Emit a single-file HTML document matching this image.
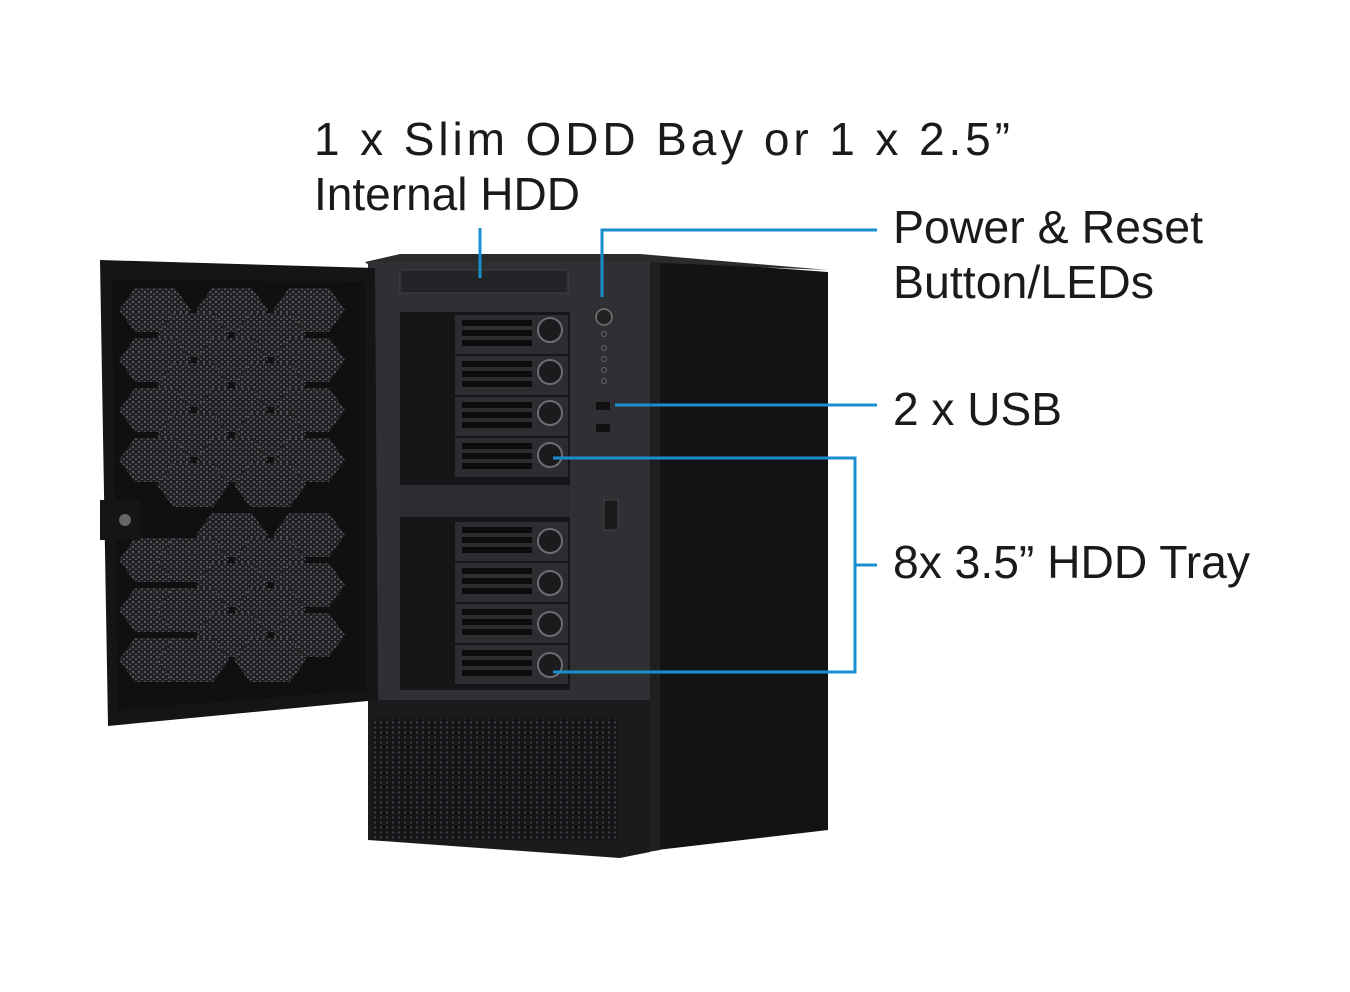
<!DOCTYPE html>
<html><head><meta charset="utf-8"><style>
html,body{margin:0;padding:0;background:#fff;}
svg{display:block}
text{font-family:"Liberation Sans",Arial,sans-serif;font-size:46px;fill:#1a1a1a}
</style></head><body>
<svg width="1350" height="992" viewBox="0 0 1350 992" xmlns="http://www.w3.org/2000/svg">
<defs>
<pattern id="hex" width="6" height="5" patternUnits="userSpaceOnUse">
<rect width="6" height="5" fill="#1e1f21"/><circle cx="2" cy="2" r="1.2" fill="#55585c"/><circle cx="5" cy="4.5" r="1.1" fill="#55585c"/>
</pattern>
<pattern id="mesh" width="6" height="5" patternUnits="userSpaceOnUse">
<rect width="6" height="5" fill="#141516"/><circle cx="3" cy="2.5" r="1.2" fill="#3a3c40"/>
</pattern>
<polygon id="hx" points="-36,0 -20,-22 20,-22 36,0 20,22 -20,22" fill="url(#hex)"/>
</defs>
<!-- side panel -->
<polygon points="640,258 828,272 828,830 640,852" fill="#121314"/>
<polygon points="648,262 660,262 660,850 648,852" fill="#1e1f21"/>
<polygon points="365,262 400,254 640,254 828,270 640,262 370,266" fill="#2a2b2d"/>
<rect x="368" y="262" width="282" height="440" fill="#2e3033"/>
<polygon points="368,700 650,700 650,852 620,858 368,840" fill="#1a1b1d"/>
<rect x="372" y="718" width="246" height="122" fill="url(#mesh)"/>
<rect x="400" y="270" width="168" height="23" fill="#232427" stroke="#3d3f43"/>
<rect x="400" y="312" width="170" height="378" fill="#151617"/>
<rect x="400" y="485" width="170" height="32" fill="#2a2c2f"/>
<g>
<rect x="455" y="315" width="113" height="39" fill="#2b2d30"/>
<rect x="455" y="356" width="113" height="39" fill="#2b2d30"/>
<rect x="455" y="397" width="113" height="39" fill="#2b2d30"/>
<rect x="455" y="438" width="113" height="39" fill="#2b2d30"/>
<rect x="455" y="522" width="113" height="39" fill="#2b2d30"/>
<rect x="455" y="563" width="113" height="39" fill="#2b2d30"/>
<rect x="455" y="604" width="113" height="39" fill="#2b2d30"/>
<rect x="455" y="645" width="113" height="39" fill="#2b2d30"/>
</g>
<g fill="#0c0c0d">
<rect x="462" y="320" width="70" height="6"/><rect x="462" y="330" width="70" height="6"/><rect x="462" y="340" width="70" height="6"/>
<rect x="462" y="361" width="70" height="6"/><rect x="462" y="371" width="70" height="6"/><rect x="462" y="381" width="70" height="6"/>
<rect x="462" y="402" width="70" height="6"/><rect x="462" y="412" width="70" height="6"/><rect x="462" y="422" width="70" height="6"/>
<rect x="462" y="443" width="70" height="6"/><rect x="462" y="453" width="70" height="6"/><rect x="462" y="463" width="70" height="6"/>
<rect x="462" y="527" width="70" height="6"/><rect x="462" y="537" width="70" height="6"/><rect x="462" y="547" width="70" height="6"/>
<rect x="462" y="568" width="70" height="6"/><rect x="462" y="578" width="70" height="6"/><rect x="462" y="588" width="70" height="6"/>
<rect x="462" y="609" width="70" height="6"/><rect x="462" y="619" width="70" height="6"/><rect x="462" y="629" width="70" height="6"/>
<rect x="462" y="650" width="70" height="6"/><rect x="462" y="660" width="70" height="6"/><rect x="462" y="670" width="70" height="6"/>
</g>
<g fill="#1a1b1c" stroke="#6a6d72" stroke-width="2">
<circle cx="550" cy="330" r="12"/><circle cx="550" cy="372" r="12"/><circle cx="550" cy="413" r="12"/><circle cx="550" cy="455" r="12"/>
<circle cx="550" cy="541" r="12"/><circle cx="550" cy="583" r="12"/><circle cx="550" cy="624" r="12"/><circle cx="550" cy="665" r="12"/>
</g>
<circle cx="604" cy="317" r="8" fill="#222" stroke="#777" stroke-width="1.5"/>
<g fill="none" stroke="#666" stroke-width="1"><circle cx="604" cy="334" r="2.5"/><circle cx="604" cy="348" r="2.5"/><circle cx="604" cy="359" r="2.5"/><circle cx="604" cy="370" r="2.5"/><circle cx="604" cy="381" r="2.5"/></g>
<rect x="596" y="402" width="14" height="8" fill="#111"/><rect x="596" y="424" width="14" height="8" fill="#111"/>
<rect x="604" y="500" width="14" height="30" fill="#1a1b1c" stroke="#444"/>
<!-- door -->
<polygon points="100,260 375,268 378,700 108,726" fill="#141516"/>
<polygon points="112,280 365,282 365,690 118,710" fill="#0f1011"/>
<g>
<use href="#hx" x="155" y="310"/><use href="#hx" x="232" y="310"/><use href="#hx" x="309" y="310"/>
<use href="#hx" x="193" y="335"/><use href="#hx" x="270" y="335"/>
<use href="#hx" x="155" y="360"/><use href="#hx" x="232" y="360"/><use href="#hx" x="309" y="360"/>
<use href="#hx" x="193" y="385"/><use href="#hx" x="270" y="385"/>
<use href="#hx" x="155" y="410"/><use href="#hx" x="232" y="410"/><use href="#hx" x="309" y="410"/>
<use href="#hx" x="193" y="435"/><use href="#hx" x="270" y="435"/>
<use href="#hx" x="155" y="460"/><use href="#hx" x="232" y="460"/><use href="#hx" x="309" y="460"/>
<use href="#hx" x="193" y="485"/><use href="#hx" x="270" y="485"/>
<use href="#hx" x="155" y="560"/><use href="#hx" x="232" y="535"/><use href="#hx" x="309" y="535"/>
<use href="#hx" x="193" y="560"/><use href="#hx" x="270" y="560"/>
<use href="#hx" x="155" y="610"/><use href="#hx" x="232" y="585"/><use href="#hx" x="309" y="585"/>
<use href="#hx" x="193" y="610"/><use href="#hx" x="270" y="610"/>
<use href="#hx" x="155" y="660"/><use href="#hx" x="232" y="635"/><use href="#hx" x="309" y="635"/>
<use href="#hx" x="193" y="660"/><use href="#hx" x="270" y="660"/>
</g>
<rect x="100" y="500" width="40" height="40" fill="#141516"/>
<circle cx="125" cy="520" r="6" fill="#666"/>
<g stroke="#1a8fd0" stroke-width="3" fill="none">
<line x1="480" y1="228" x2="480" y2="278"/>
<polyline points="877,230 602,230 602,297"/>
<line x1="615" y1="405" x2="877" y2="405"/>
<polyline points="553,458 855,458 855,672 553,672"/>
<line x1="855" y1="565" x2="877" y2="565"/>
</g>
<text x="314" y="155" textLength="696" lengthAdjust="spacing">1 x Slim ODD Bay or 1 x 2.5”</text>
<text x="314" y="210" textLength="266" lengthAdjust="spacingAndGlyphs">Internal HDD</text>
<text x="893" y="243" textLength="310" lengthAdjust="spacingAndGlyphs">Power &amp; Reset</text>
<text x="893" y="298" textLength="261" lengthAdjust="spacingAndGlyphs">Button/LEDs</text>
<text x="893" y="425" textLength="169" lengthAdjust="spacingAndGlyphs">2 x USB</text>
<text x="893" y="578" textLength="357" lengthAdjust="spacingAndGlyphs">8x 3.5” HDD Tray</text>
</svg>
</body></html>
